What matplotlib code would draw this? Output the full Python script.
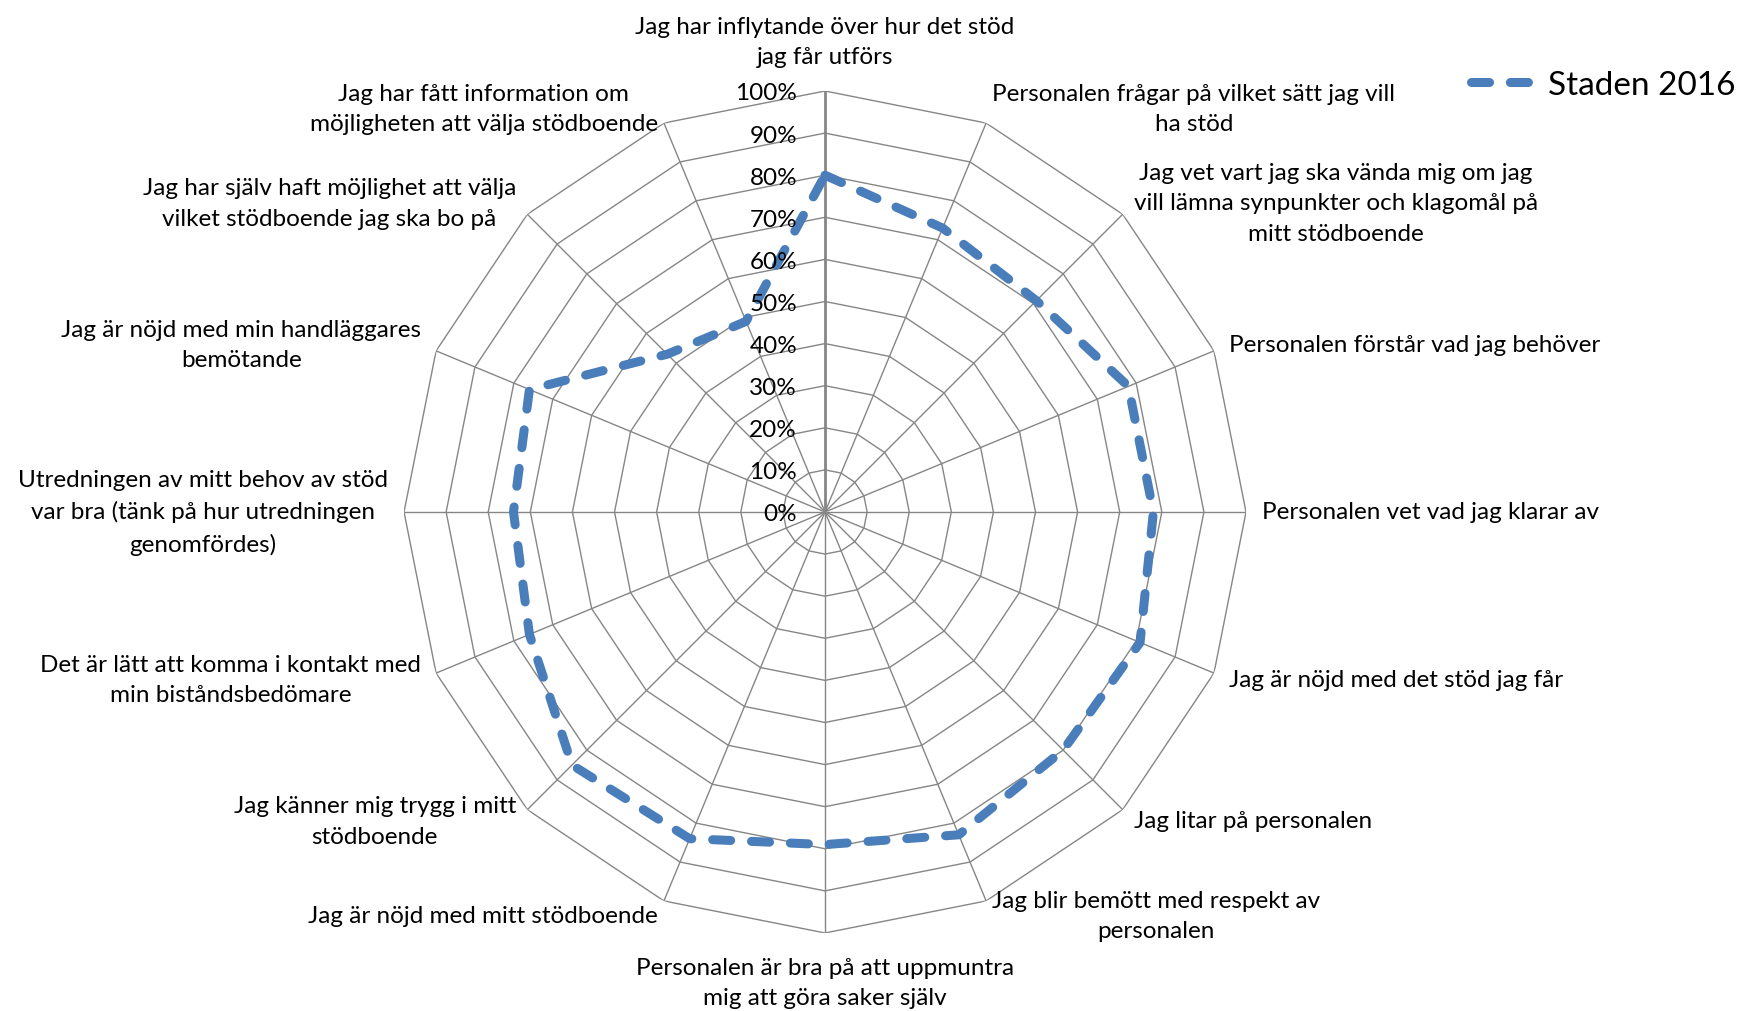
import numpy as np
import matplotlib
matplotlib.use("Agg")
import matplotlib.pyplot as plt

# ── data ─────────────────────────────────────────────────────────────────────
categories = [
    "Jag har inflytande över hur det stöd\njag får utförs",
    "Personalen frågar på vilket sätt jag vill\nha stöd",
    "Jag vet vart jag ska vända mig om jag\nvill lämna synpunkter och klagomål på\nmitt stödboende",
    "Personalen förstår vad jag behöver",
    "Personalen vet vad jag klarar av",
    "Jag är nöjd med det stöd jag får",
    "Jag litar på personalen",
    "Jag blir bemött med respekt av\npersonalen",
    "Personalen är bra på att uppmuntra\nmig att göra saker själv",
    "Jag är nöjd med mitt stödboende",
    "Jag känner mig trygg i mitt\nstödboende",
    "Det är lätt att komma i kontakt med\nmin biståndsbedömare",
    "Utredningen av mitt behov av stöd\nvar bra (tänk på hur utredningen\ngenomfördes)",
    "Jag är nöjd med min handläggares\nbemötande",
    "Jag har själv haft möjlighet att välja\nvilket stödboende jag ska bo på",
    "Jag har fått information om\nmöjligheten att välja stödboende",
]
values = [80, 73, 71, 78, 78, 81, 80, 83, 79, 84, 85, 76, 74, 76, 53, 49]
ticks = [0, 10, 20, 30, 40, 50, 60, 70, 80, 90, 100]
series_name = "Staden 2016"

# ── style ────────────────────────────────────────────────────────────────────
plt.rcParams['font.family'] = ['Lato', 'DejaVu Sans']
plt.rcParams['lines.scale_dashes'] = False
GRID = "#868686"
BLUE = "#4A7EBB"
LABEL_FS = 17.5

fig = plt.figure(figsize=(17.4, 10.12), dpi=100)
ax = fig.add_axes([0.2322, 0.0771, 0.4839, 0.832], projection="polar")
ax.set_theta_zero_location("N")
ax.set_theta_direction(-1)
ax.set_ylim(0, 100)
ax.set_axis_off()

n = len(categories)
theta = np.arange(n) * 2 * np.pi / n
theta_c = np.append(theta, theta[0])

# polygon rings
for t in ticks[1:]:
    ax.plot(theta_c, [t] * (n + 1), color=GRID, lw=1.0, zorder=1)
# spokes (the first one is the value axis, drawn a bit heavier)
for i, th in enumerate(theta):
    ax.plot([th, th], [0, 100], color=GRID, lw=2.0 if i == 0 else 1.0, zorder=1)

# series
vals_c = np.append(values, values[0])
ax.plot(theta_c, vals_c, color=BLUE, lw=6.5, dashes=(13, 15),
        dash_capstyle="round", solid_joinstyle="round", zorder=3,
        label=series_name)

# category labels, pushed a little outside the outer ring
for th, lab in zip(theta, categories):
    s, c = np.sin(th), np.cos(th)
    ha = "left" if s > 0.1 else ("right" if s < -0.1 else "center")
    va = "bottom" if c > 0.99 else ("top" if c < -0.99 else "center")
    d = 24 if abs(c) > 0.99 else 16
    ax.annotate(lab, xy=(th, 100), xytext=(d * s, d * c),
                textcoords="offset pixels", ha=ha, va=va, ma="center",
                fontsize=LABEL_FS, linespacing=1.55, annotation_clip=False)

# radial tick labels along the top spoke
for t in ticks:
    ax.annotate(f"{t}%", xy=(0, t), xytext=(-28, 0), textcoords="offset pixels",
                ha="right", va="center_baseline", fontsize=LABEL_FS,
                annotation_clip=False)

fig.legend(loc="center left", bbox_to_anchor=(0.8454, 0.915), frameon=False,
           fontsize=24, handlelength=1.8, handletextpad=0.5,
           borderpad=0, borderaxespad=0)

fig.savefig("out.png", dpi=100, facecolor="white")
